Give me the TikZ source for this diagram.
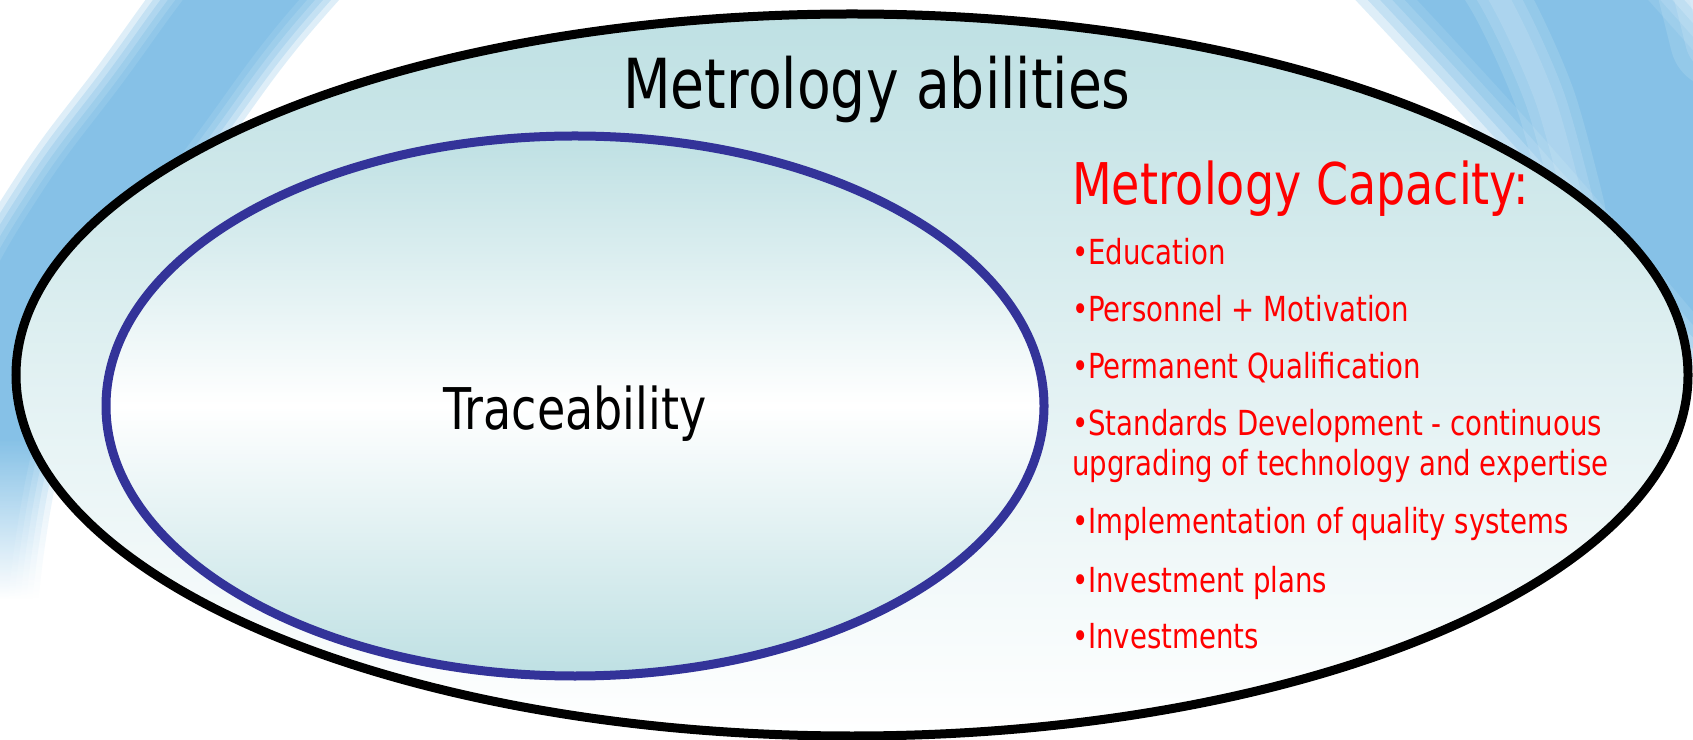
\documentclass[tikz,border=0pt]{standalone}
\usepackage{fontspec}
\setmainfont{DejaVu Sans}[FakeStretch=0.8]
\usetikzlibrary{shapes.geometric,fadings}
\definecolor{teal0}{HTML}{BEE0E3}
\definecolor{swoosh}{HTML}{5CACDE}
\definecolor{ringblue}{HTML}{333399}
\definecolor{capred}{HTML}{FF0000}
\begin{document}
\begin{tikzpicture}[x=1pt,y=1pt,
  swooshlayer/.style={line cap=round, draw=swoosh, opacity=0.2},
  glowlayer/.style={line cap=round, draw=white, opacity=0.12},
  titletext/.style={font=\fontsize{69}{80}\selectfont, inner sep=0pt, outer sep=0pt, text=black},
  midtext/.style={font=\fontsize{57.5}{66}\selectfont, inner sep=0pt, outer sep=0pt},
  listtext/.style={font=\fontsize{34.5}{40}\selectfont, inner sep=0pt, outer sep=0pt, text=capred, anchor=base west},
  ringshape/.style={ellipse, inner sep=0pt, outer sep=0pt}]
\clip (0,0) rectangle (1693,739);
% background swoosh, left band
\foreach \w in {90,102,114,126,138,150} {
  \draw[swooshlayer, line width=\w pt] plot[smooth, tension=0.7] coordinates {(330,840) (240,739) (160,631) (80,523) (20,415) (-10,307) (-30,199) (-40,100)};
}
\fill[white, path fading=north] (-20,140) rectangle (200,300);
\fill[white] (-20,-10) rectangle (200,140);
% background swoosh, right band
\foreach \w in {170,188,206,224,242,260} {
  \draw[swooshlayer, line width=\w pt] plot[smooth, tension=0.7] coordinates {(1420,860) (1533,739) (1640,620) (1760,480)};
}
\foreach \w in {20,40,60} {
  \draw[glowlayer, line width=\w pt] plot[smooth] coordinates {(1440,830) (1500,739) (1545,640) (1575,530)};
}
\foreach \w in {40,70,100} {
  \draw[glowlayer, line width=\w pt] (1705,760) -- (1720,700);
}
% ellipses
\node[ringshape, draw=black, line width=9pt, minimum width=1672pt, minimum height=722pt,
      top color=teal0, bottom color=white, middle color=teal0!45!white] (outer) at (852,364) {};
\node[ringshape, draw=ringblue, line width=9pt, minimum width=938pt, minimum height=540pt,
      top color=teal0, bottom color=teal0, middle color=white] (inner) at (575,333) {};
% texts
\node[titletext, anchor=base] (title) at (877,630) {Metrology abilities};
\node[midtext, anchor=base, text=black] (trace) at (575,309) {Traceability};
\node[midtext, anchor=base west, text=capred] (cap) at (1072,534) {Metrology Capacity:};
\node[listtext] (l1) at (1072,474.5) {•Education};
\node[listtext] (l2) at (1072,417.3) {•Personnel + Motivation};
\node[listtext] (l3) at (1072,360) {•Permanent Qualification};
\node[listtext] (l4) at (1072,303) {•Standards Development - continuous};
\node[listtext] (l4b) at (1072,263) {upgrading of technology and expertise};
\node[listtext] (l5) at (1072,205) {•Implementation of quality systems};
\node[listtext] (l6) at (1072,147) {•Investment plans};
\node[listtext] (l7) at (1072,91) {•Investments};
\end{tikzpicture}
\end{document}
